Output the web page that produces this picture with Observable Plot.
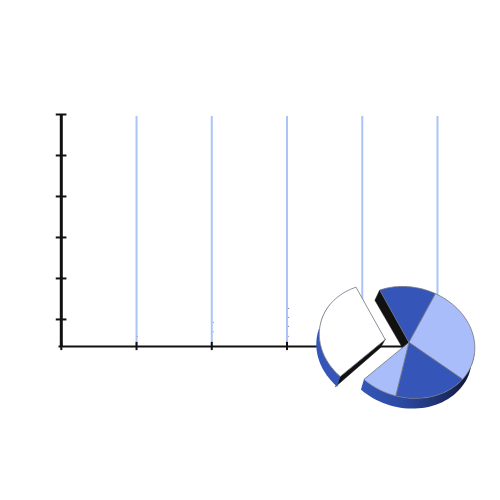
<!DOCTYPE html>
<html>
<head>
<meta charset="utf-8">
<style>html,body{margin:0;padding:0;background:#fff}</style>
<script src="https://cdn.jsdelivr.net/npm/d3@7"></script>
<script src="https://cdn.jsdelivr.net/npm/@observablehq/plot@0.6"></script>
</head>
<body>
<script>
// Axis ticks and gridlines
const xTicks = [0, 1, 2, 3, 4, 5];
const yTicks = [0, 1, 2, 3, 4, 5];
const gridX = [1, 2, 3, 4, 5];
const baseY = -0.66;
// Faint specks beside the gridlines
const speckX = [1.01, 2.02, 2.02, 3.02, 3.02, 3.02, 3.02];
const speckY = [-0.41, -0.07, -0.3, 0.27, 0.05, -0.17, -0.41];
// Pie slices, percent of the circle, clockwise from the top-right slice
const sliceNames = ["a", "b", "c", "d", "e"];
const sliceValues = [13.9, 28.3, 18.3, 8.75, 30.75];
const sliceColors = ["#3556b8", "#aabdfb", "#3556b8", "#aabdfb", "#ffffff"];
const startAngle = -26.3;
// Pie geometry in axis units (the disc is a slightly tilted ellipse)
const cx = 4.62, cy = -0.56, rx = 0.876, ry = 1.358, skew = 0.134;
const explodeX = -0.315, explodeY = 0.07;
const depthX = -0.04, depthY = -0.25;

const rad = d => d * Math.PI / 180;
let acc = startAngle;
const slices = sliceValues.map((v, i) => {
  const a0 = acc, a1 = acc + v * 3.6;
  acc = a1;
  const ex = sliceNames[i] === "e";
  return {name: sliceNames[i], color: sliceColors[i], a0, a1,
          ox: cx + (ex ? explodeX : 0), oy: cy + (ex ? explodeY : 0)};
});
const rimPoint = (s, a, dx = 0, dy = 0) => {
  const t = rad(a);
  return {x: s.ox + dx + rx * Math.sin(t), y: s.oy + dy + ry * Math.cos(t) - skew * Math.sin(t)};
};
const arcPts = (s, dx = 0, dy = 0, from = s.a0, to = s.a1) =>
  d3.range(0, 41).map(k => rimPoint(s, from + (to - from) * k / 40, dx, dy));
const wedge = s => [{x: s.ox, y: s.oy}, ...arcPts(s), {x: s.ox, y: s.oy}];
// side wall: the outer rim swept along the depth offset
const rim = (s, from, to) => {
  const top = arcPts(s, 0, 0, from, to);
  const bot = arcPts(s, depthX, depthY, from, to);
  return [...top, ...bot.reverse(), top[0]];
};
// black wall under a straight cut edge
const cut = (s, a) => {
  const p = rimPoint(s, a);
  return [{x: s.ox, y: s.oy}, p, {x: p.x + depthX * 1.6, y: p.y + depthY}, {x: s.ox + depthX * 1.6, y: s.oy + depthY * 0.8}, {x: s.ox, y: s.oy}];
};
const [sA, sB, sC, sD, sE] = slices;
const poly = (pts, o) => Plot.line(pts, {x: "x", y: "y", curve: "linear", ...o});

const chart = Plot.plot({
  width: 500, height: 500, margin: 0,
  style: {background: "#fff"},
  x: {axis: null, domain: [0, 5], range: [60.8, 437]},
  y: {axis: null, domain: [baseY, 5], range: [346, 114]},
  marks: [
    () => {
      const ns = "http://www.w3.org/2000/svg";
      const defs = document.createElementNS(ns, "defs");
      defs.innerHTML = `<linearGradient id="wall" x1="0" x2="1" y1="0" y2="0">
        <stop offset="0" stop-color="#3556b8"/><stop offset="0.35" stop-color="#2c4aa2"/>
        <stop offset="0.75" stop-color="#1c2d66"/><stop offset="1" stop-color="#0c1126"/></linearGradient>`;
      return defs;
    },
    Plot.ruleX(gridX, {x: d => d, y1: baseY, y2: 4.95, stroke: "#aac4f7", strokeWidth: 2}),
    Plot.dot(speckX.map((x, i) => ({x, y: speckY[i]})), {x: "x", y: "y", r: 0.6, fill: "#7f8fb5"}),
    Plot.ruleX([0], {y1: baseY, y2: 5, stroke: "#111", strokeWidth: 3}),
    Plot.ruleY([baseY], {x1: -0.03, x2: 5, stroke: "#111", strokeWidth: 2}),
    Plot.ruleY(yTicks, {y: d => d, x1: -0.067, x2: 0.075, stroke: "#111", strokeWidth: 2}),
    Plot.ruleX(xTicks, {x: d => d, y1: baseY - 0.1, y2: baseY + 0.1, stroke: "#111", strokeWidth: 2}),
    // main pie walls
    poly(cut(sA, sA.a0), {fill: "#111", stroke: "#111", strokeWidth: 0.5}),
    poly(rim(sC, sC.a0 - 30, sD.a1), {fill: "url(#wall)", stroke: "none"}),
    // exploded slice walls
    poly(cut(sE, sE.a0), {fill: "#111", stroke: "#111", strokeWidth: 0.5}),
    poly(rim(sE, sE.a0, sE.a1 - 30), {fill: "#3556b8", stroke: "none"}),
    // slice tops
    ...slices.map(s => poly(wedge(s), {fill: s.color, stroke: "#6f7482", strokeWidth: 0.8}))
  ]
});
document.body.appendChild(chart);
</script>
</body>
</html>
